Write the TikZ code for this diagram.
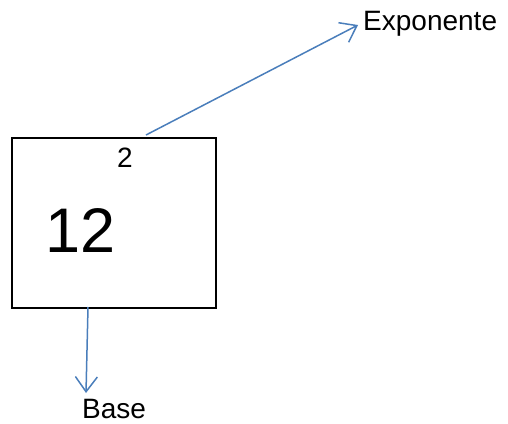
\documentclass[tikz,border=0pt]{standalone}
\usepackage{fontspec}
\setmainfont{Liberation Sans}
\usetikzlibrary{arrows.meta}
\definecolor{arrowblue}{RGB}{74,126,187}
\begin{document}
\begin{tikzpicture}[x=1pt,y=-1pt,
  conn/.style={draw=arrowblue,line width=1.5pt,-{Straight Barb[length=15pt,width=22pt,line width=1.5pt]}},
  lbl/.style={inner sep=0pt,font=\fontsize{28}{30}\selectfont}]
\useasboundingbox (0,0) rectangle (508,423);
\node[draw,line width=2pt,minimum width=204pt,minimum height=170pt,inner sep=0pt] (box) at (114,222.5) {};
\node[lbl] (exp2) at (125,157.7) {2};
\node[inner sep=0pt,font=\fontsize{63}{66}\selectfont] (base12) at (81,230.5) {12};
\node[lbl,anchor=base west] (expo) at (363,30) {Exponente};
\node[lbl,anchor=base west] (basel) at (82,418) {Base};
\coordinate (s1) at (146,135);
\coordinate (e1) at (358,25);
\coordinate (s2) at (88,307);
\coordinate (e2) at (86,393);
\draw[conn] (s1) -- (e1);
\draw[conn] (s2) -- (e2);
\end{tikzpicture}
\end{document}
